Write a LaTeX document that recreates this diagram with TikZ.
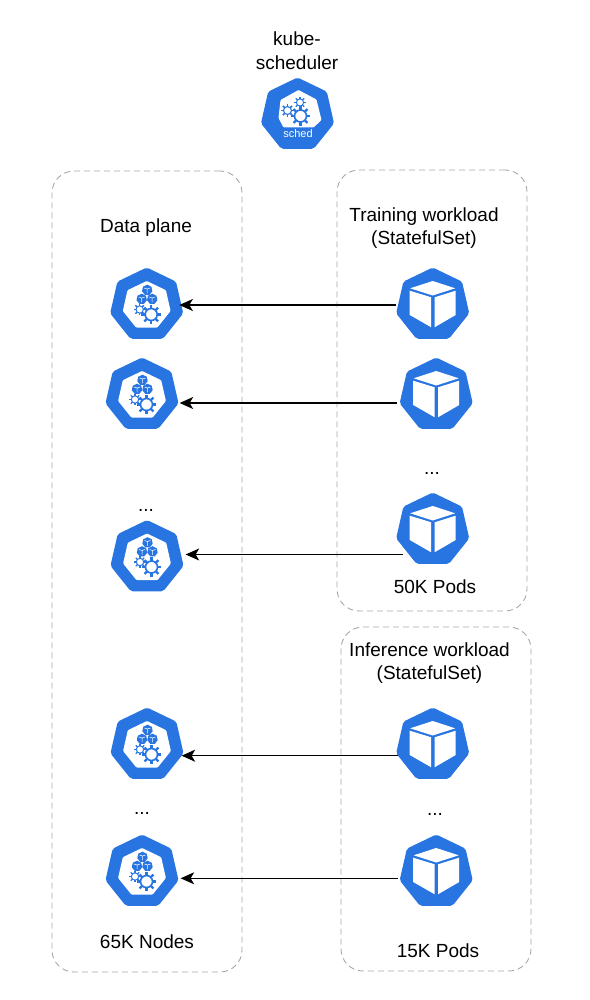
\documentclass[tikz,border=0pt]{standalone}
\usepackage{fontspec}
\setmainfont{Liberation Sans}
\usetikzlibrary{shapes.geometric, arrows.meta, positioning}
\definecolor{kblue}{HTML}{2875E2}
\definecolor{dashgray}{HTML}{A8A8A8}
\tikzset{
    kube/.style={regular polygon, regular polygon sides=7, fill=kblue, rounded corners=2pt, minimum size=75pt, inner sep=0pt, outer sep=0pt},
    group/.style={draw=dashgray, dashed, dash pattern=on 6pt off 4pt, line width=0.9pt, rounded corners=22pt, minimum width=190pt, inner sep=0pt},
    caption/.style={align=center, font=\fontsize{19}{23.5}\selectfont},
    flow/.style={-{Stealth[length=13.5pt, width=12pt, inset=3.5pt]}, line width=1.2pt},
    pics/gear/.style={code={
        \foreach \a in {0,45,...,315} {
            \draw[kblue, line width=#1*0.3pt] (\a:#1*0.8pt) -- (\a:#1*1.3pt);
        }
        \draw[kblue, fill=white, line width=#1*0.22pt] (0,0) circle[radius=#1*0.8pt];
    }},
    pics/minicube/.style={code={
        \fill[kblue] (0,-5.3) -- (4.2,-3.3) -- (5.2,1.2) -- (2.3,4.8) -- (-2.3,4.8) -- (-5.2,1.2) -- (-4.2,-3.3) -- cycle;
        \draw[white, line width=0.5pt] (-3,-2) -- (0,-1) -- (3,-2) (0,-1) -- (0,3.4);
    }},
    pics/podglyph/.style={code={
        \fill[white] (0,-24) -- (22.5,-16.7) -- (0,-9.5) -- (-22.5,-16.7) -- cycle;
        \fill[white] (-23,-14.3) -- (-1.5,-7.7) -- (-1.5,22.3) -- (-23,10) -- cycle;
        \fill[white] (1.8,-7.7) -- (23,-14.3) -- (23,10) -- (1.8,22.3) -- cycle;
    }},
    pics/workerglyph/.style={code={
        \fill[white, rounded corners=1pt] (0,-24) -- (19.2,-14.8) -- (23.9,6) -- (10.6,22.6) -- (-10.6,22.6) -- (-23.9,6) -- (-19.2,-14.8) -- cycle;
        \pic at (0.5,-15) {minicube};
        \pic at (-5,-6) {minicube};
        \pic at (5.5,-6) {minicube};
        \pic at (-7,4.5) {gear=4.6};
        \pic at (4.5,9.5) {gear=7.5};
    }},
    pics/schedglyph/.style={code={
        \fill[white, rounded corners=1pt] (1,-25) -- (19,-15.5) -- (24,5) -- (16,12.5) -- (-14,12.5) -- (-19,3) -- (-17,-15) -- cycle;
        \pic at (2.5,-12.5) {gear=4.5};
        \pic at (-10,-4.5) {gear=5};
        \pic at (3,1) {gear=7.5};
    }}
}

\begin{document}
\begin{tikzpicture}[x=1pt, y=-1pt]
    \useasboundingbox (0,0) rectangle (589,1000);

    % dashed groups
    \node[group, minimum height=801pt] (plane) at (147,571.5) {};
    \node[group, minimum height=441pt] (training) at (432,390.5) {};
    \node[group, minimum height=344pt] (inference) at (436,799) {};

    \node[kube] (sched) at (297.5,115) {};
    \node[caption] (schedname) at (297,50.5) {kube-\\scheduler};
    \node[font=\fontsize{11}{13}\selectfont, text=white] (schedtext) at (298,134) {sched};

    % worker nodes
    \node[kube] (work1) at (146.7,305) {};
    \node[kube, on grid, below=90pt of work1, xshift=-4.7pt] (work2) {};
    \node[kube, on grid, below=162.5pt of work2, xshift=5pt] (work3) {};
    \node[kube, on grid, below=187.5pt of work3] (work4) {};
    \node[kube, on grid, below=127pt of work4, xshift=-5pt] (work5) {};

    % pods
    \node[kube, on grid, right=286pt of work1] (pod1) {};
    \node[kube, on grid, below=90pt of pod1, xshift=3.5pt] (pod2) {};
    \node[kube, on grid, below=135pt of pod2, xshift=-3.5pt] (pod3) {};
    \node[kube, on grid, below=215pt of pod3] (pod4) {};
    \node[kube, on grid, below=127pt of pod4, xshift=3.5pt] (pod5) {};

    \pic at (sched) {schedglyph};
    \foreach \n in {work1,work2,work3,work4,work5} {
        \pic at (\n) {workerglyph};
    }
    \foreach \n in {pod1,pod2,pod3,pod4,pod5} {
        \pic at (\n) {podglyph};
    }

    \node[caption] (planename) at (146,228) {Data plane};
    \node[caption] (trainname) at (424,228) {Training workload\\(StatefulSet)};
    \node[caption] (infername) at (429.5,663) {Inference workload\\(StatefulSet)};
    \node[caption] (podstrain) at (435,587) {50K Pods};
    \node[caption] (podsinfer) at (438,951) {15K Pods};
    \node[caption] (nodecount) at (147,942) {65K Nodes};
    \node[caption] (dotsa) at (146,510) {...};
    \node[caption] (dotsb) at (142,813) {...};
    \node[caption] (dotsc) at (432,473) {...};
    \node[caption] (dotsd) at (435,814) {...};

    \draw[flow, shorten <=2pt, shorten >=-2pt] (pod1.west) -- (work1.east);
    \draw[flow, shorten <=4.6pt, shorten >=3pt] ([yshift=-8pt]pod2.west) -- ([yshift=-8pt]work2.east);
    \draw[flow, shorten <=-5pt, shorten >=4pt] ([yshift=-24.5pt]pod3.west) -- ([yshift=-24.5pt]pod3.west -| work3.east);
    \draw[flow] ([yshift=-10.7pt]pod4.west) -- ([yshift=-10.7pt]work4.east);
    \draw[flow, shorten <=3.6pt, shorten >=4pt] ([yshift=-6.3pt]pod5.west) -- ([yshift=-6.3pt]work5.east);
\end{tikzpicture}
\end{document}
